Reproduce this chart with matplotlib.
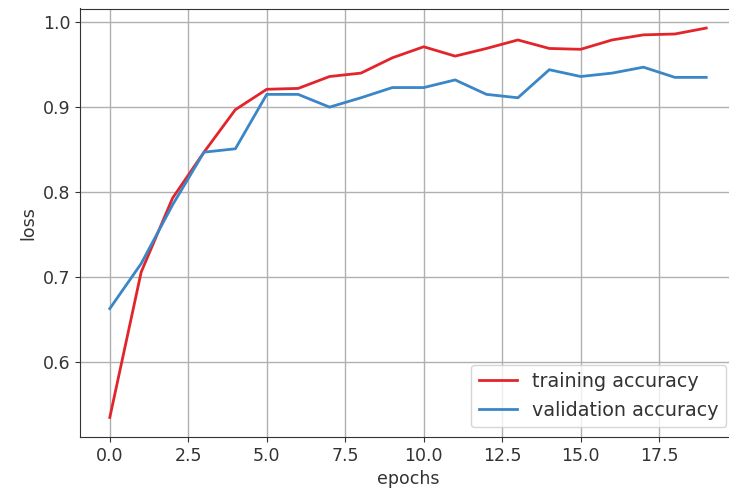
import matplotlib
matplotlib.use("Agg")
import matplotlib.pyplot as plt

epochs = list(range(20))
training_accuracy = [0.535, 0.706, 0.793, 0.847, 0.897, 0.921, 0.922, 0.936, 0.940, 0.958,
                     0.971, 0.960, 0.969, 0.979, 0.969, 0.968, 0.979, 0.985, 0.986, 0.993]
validation_accuracy = [0.663, 0.716, 0.785, 0.847, 0.851, 0.915, 0.915, 0.900, 0.911, 0.923,
                       0.923, 0.932, 0.915, 0.911, 0.944, 0.936, 0.940, 0.947, 0.935, 0.935]

plt.rcParams['font.size'] = 12.5
fig = plt.figure(figsize=(7.29, 5.0), dpi=100)
ax = fig.add_axes([0.1097, 0.126, 0.900, 0.857])

ax.plot(epochs, training_accuracy, color="#e2252b", lw=2.0, label="training accuracy")
ax.plot(epochs, validation_accuracy, color="#3a86c6", lw=2.0, label="validation accuracy")

ax.set_xlim(-0.95, 19.95)
ax.set_ylim(0.512, 1.016)
ax.set_xticks([0.0, 2.5, 5.0, 7.5, 10.0, 12.5, 15.0, 17.5])
ax.set_yticks([0.6, 0.7, 0.8, 0.9, 1.0])
ax.grid(True, color="#b0b0b0", lw=1.0)
ax.tick_params(colors="#333333", labelcolor="#333333")
for s in ax.spines.values():
    s.set_color("#333333")
ax.set_xlabel("epochs", color="#333333")
ax.set_ylabel("loss", color="#333333")
leg = ax.legend(loc="lower right", fontsize=13.8)
for t in leg.get_texts():
    t.set_color("#333333")

fig.savefig("out.png", dpi=100)
